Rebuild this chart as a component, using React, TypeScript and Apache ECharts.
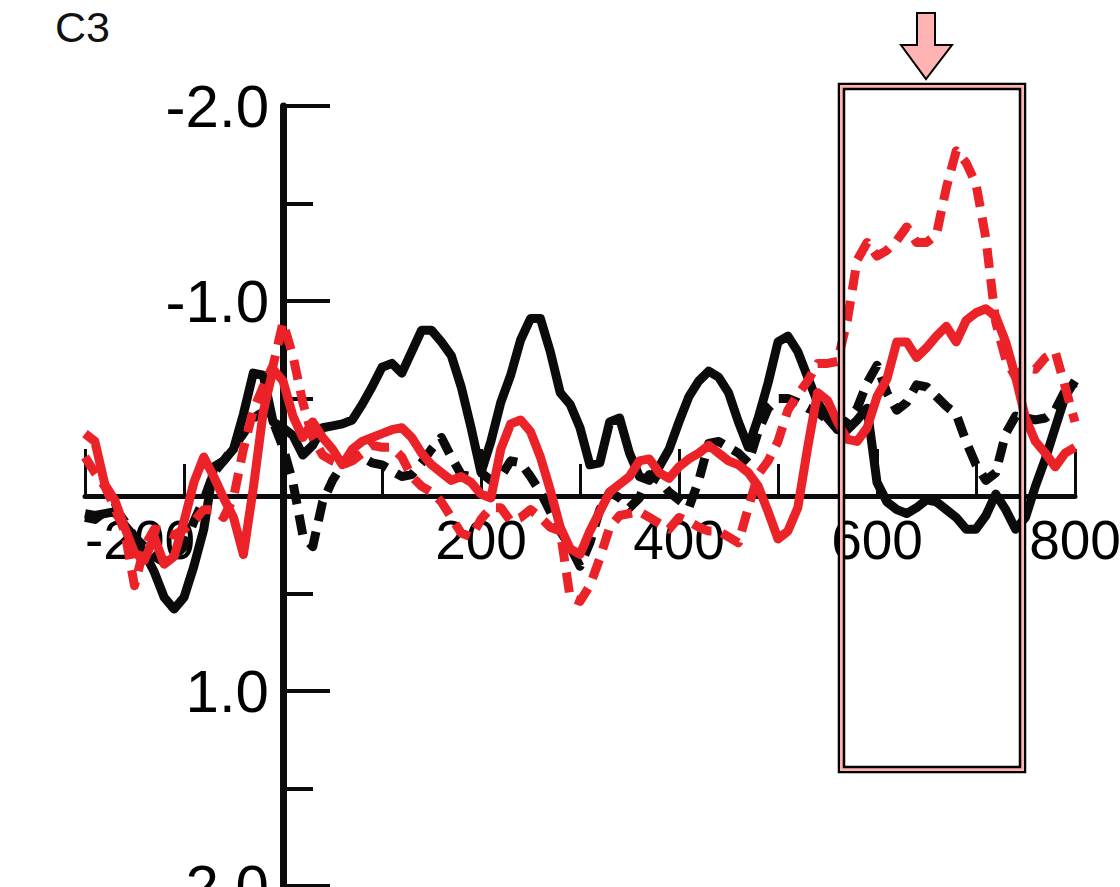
import React, { useEffect, useRef } from "react";
import * as echarts from "echarts";

// Sampling grid of the waveforms (ms)
const SAMPLE_START = -200;
const SAMPLE_STEP = 10;

// Channel C3 grand averages (µV), one value per 10 ms from -200 to 800 ms
const blackSolid = [
  0.09, 0.10, 0.09, 0.08, 0.15, 0.21, 0.29, 0.39, 0.52, 0.58,
  0.52, 0.36, 0.17, -0.15, -0.18, -0.24, -0.42, -0.63, -0.62, -0.38,
  -0.35, -0.31, -0.21, -0.26, -0.35, -0.36, -0.37, -0.39, -0.47, -0.56,
  -0.66, -0.68, -0.63, -0.74, -0.85, -0.85, -0.79, -0.72, -0.56, -0.35,
  -0.12, -0.28, -0.48, -0.62, -0.80, -0.91, -0.91, -0.74, -0.53, -0.47,
  -0.35, -0.16, -0.17, -0.38, -0.40, -0.22, -0.10, -0.08, -0.15, -0.24,
  -0.38, -0.51, -0.59, -0.64, -0.61, -0.53, -0.38, -0.25, -0.40, -0.58,
  -0.79, -0.82, -0.74, -0.61, -0.48, -0.40, -0.34, -0.34, -0.39, -0.45,
  -0.07, 0.03, 0.07, 0.09, 0.06, 0.02, 0.03, 0.07, 0.11, 0.17,
  0.17, 0.10, -0.01, 0.07, 0.17, 0.11, -0.05, -0.19, -0.35, -0.51,
  -0.59,
];

const blackDashed = [
  0.11, 0.12, 0.08, 0.06, 0.13, 0.21, 0.26, 0.31, 0.34, 0.31,
  0.26, 0.13, 0.02, -0.12, -0.18, -0.25, -0.32, -0.40, -0.43, -0.38,
  -0.25, -0.07, 0.20, 0.26, 0.03, -0.08, -0.16, -0.21, -0.20, -0.17,
  -0.16, -0.13, -0.10, -0.11, -0.17, -0.24, -0.30, -0.20, -0.11, -0.10,
  -0.12, -0.08, -0.10, -0.18, -0.17, -0.10, -0.02, 0.08, 0.18, 0.26,
  0.36, 0.24, 0.07, -0.02, 0.01, 0.06, 0.01, -0.11, -0.08, -0.02,
  0.02, 0.06, -0.08, -0.27, -0.28, -0.25, -0.22, -0.17, -0.33, -0.45,
  -0.50, -0.50, -0.48, -0.45, -0.43, -0.39, -0.35, -0.38, -0.45, -0.58,
  -0.67, -0.53, -0.44, -0.48, -0.57, -0.56, -0.51, -0.46, -0.42, -0.28,
  -0.16, -0.08, -0.12, -0.32, -0.41, -0.40, -0.39, -0.40, -0.44, -0.54,
  -0.58,
];

const redSolid = [
  -0.32, -0.28, -0.06, 0.02, 0.16, 0.29, 0.33, 0.21, 0.35, 0.31,
  0.13, -0.07, -0.20, -0.10, 0.01, 0.11, 0.30, -0.04, -0.43, -0.65,
  -0.59, -0.41, -0.30, -0.38, -0.30, -0.24, -0.16, -0.24, -0.28, -0.30,
  -0.32, -0.34, -0.35, -0.30, -0.22, -0.16, -0.12, -0.08, -0.10, -0.07,
  -0.01, 0.01, -0.24, -0.37, -0.39, -0.33, -0.20, -0.03, 0.16, 0.27,
  0.30, 0.18, 0.08, -0.02, -0.06, -0.10, -0.18, -0.19, -0.12, -0.09,
  -0.15, -0.19, -0.22, -0.26, -0.22, -0.18, -0.16, -0.12, -0.05, 0.08,
  0.22, 0.18, 0.06, -0.25, -0.53, -0.49, -0.38, -0.29, -0.28, -0.35,
  -0.51, -0.60, -0.79, -0.79, -0.71, -0.76, -0.82, -0.87, -0.79, -0.90,
  -0.94, -0.96, -0.92, -0.79, -0.61, -0.40, -0.28, -0.22, -0.15, -0.22,
  -0.25,
];

const redDashed = [
  -0.20, -0.12, -0.05, 0.06, 0.18, 0.46, 0.26, 0.17, 0.18, 0.20,
  0.17, 0.13, 0.07, 0.07, 0.11, 0.01, -0.24, -0.44, -0.56, -0.67,
  -0.89, -0.72, -0.48, -0.30, -0.21, -0.18, -0.16, -0.18, -0.22, -0.26,
  -0.25, -0.25, -0.20, -0.10, -0.05, -0.02, 0.03, 0.11, 0.19, 0.21,
  0.12, 0.06, 0.06, 0.13, 0.11, 0.07, 0.11, 0.16, 0.18, 0.52,
  0.54, 0.46, 0.32, 0.16, 0.10, 0.09, 0.08, 0.11, 0.14, 0.17,
  0.11, 0.13, 0.16, 0.18, 0.18, 0.21, 0.24, 0.06, -0.11, -0.18,
  -0.28, -0.44, -0.52, -0.59, -0.68, -0.68, -0.69, -0.90, -1.21, -1.30,
  -1.23, -1.26, -1.31, -1.38, -1.30, -1.30, -1.34, -1.58, -1.77, -1.71,
  -1.60, -1.32, -0.89, -0.70, -0.61, -0.66, -0.65, -0.71, -0.74, -0.56,
  -0.38,
];

const CHANNEL = "C3";
const BLACK = "#0b0b0b";
const RED = "#ec2229";
const PINK = "#ffb3b3";
const FONT = "'Liberation Sans', Arial, Helvetica, sans-serif";

// Plot frame: -200..800 ms across, -2..2 µV down (negative up)
const GRID = { left: 85, top: 106, width: 990, height: 780 };
const X_MIN = -200;
const X_MAX = 800;
const Y_MIN = -2;
const Y_MAX = 2;
// Axes cross at the origin: shift them from the frame edges to the zero lines
const Y_AXIS_SHIFT = -((0 - X_MIN) / (X_MAX - X_MIN)) * GRID.width;
const X_AXIS_SHIFT = -((Y_MAX - 0) / (Y_MAX - Y_MIN)) * GRID.height;

const toPairs = (values: number[]) =>
  values.map((v, i) => [SAMPLE_START + i * SAMPLE_STEP, v]);

const waveform = (name: string, values: number[], color: string, dashed: boolean) => ({
  name,
  type: "line",
  data: toPairs(values),
  showSymbol: false,
  symbol: "none",
  smooth: false,
  lineStyle: {
    color,
    width: 9,
    type: dashed ? [20, 11] : "solid",
    cap: "butt",
    join: "round",
  },
  silent: true,
});

export default function App() {
  const ref = useRef<HTMLDivElement>(null);

  useEffect(() => {
    if (!ref.current) return;
    const chart = echarts.init(ref.current, undefined, { renderer: "svg" });

    const option = {
      animation: false,
      backgroundColor: "#ffffff",
      grid: { ...GRID, containLabel: false, outerBoundsMode: "none" },
      xAxis: {
        type: "value",
        min: X_MIN,
        max: X_MAX,
        interval: 200,
        position: "bottom",
        offset: X_AXIS_SHIFT,
        axisLine: { onZero: false, lineStyle: { color: BLACK, width: 5 } },
        axisTick: { show: true, inside: true, length: 47, lineStyle: { color: BLACK, width: 3 } },
        minorTick: { show: true, splitNumber: 2, length: 32, lineStyle: { color: BLACK, width: 3 } },
        axisLabel: {
          color: "#000",
          fontSize: 55,
          fontFamily: FONT,
          margin: 16,
          alignMinLabel: "left",
          formatter: (v: number) => (v === 0 ? "" : String(v)),
        },
        splitLine: { show: false },
      },
      yAxis: {
        type: "value",
        inverse: true,
        min: Y_MIN,
        max: Y_MAX,
        interval: 1,
        position: "left",
        offset: Y_AXIS_SHIFT,
        axisLine: { onZero: false, lineStyle: { color: BLACK, width: 7 } },
        axisTick: { show: true, inside: true, length: 47, lineStyle: { color: BLACK, width: 4 } },
        minorTick: { show: true, splitNumber: 2, length: 30, lineStyle: { color: BLACK, width: 4 } },
        axisLabel: {
          color: "#000",
          fontSize: 60,
          fontFamily: FONT,
          margin: 14,
          formatter: (v: number) => (v === 0 ? "" : v.toFixed(1)),
        },
        splitLine: { show: false },
      },
      series: [
        waveform("black dashed", blackDashed, BLACK, true),
        waveform("black solid", blackSolid, BLACK, false),
        waveform("red dashed", redDashed, RED, true),
        waveform("red solid", redSolid, RED, false),
      ],
      graphic: [
        {
          type: "text",
          left: 55,
          top: 5,
          style: { text: CHANNEL, fontSize: 43, fontFamily: FONT, fill: "#111" },
        },
        // highlighted time window: black / pink / black frame
        {
          type: "rect",
          shape: { x: 839, y: 84, width: 186, height: 688 },
          style: { fill: "none", stroke: "#000", lineWidth: 2.5 },
          z: 100,
        },
        {
          type: "rect",
          shape: { x: 841.5, y: 86.5, width: 181, height: 683 },
          style: { fill: "none", stroke: PINK, lineWidth: 3 },
          z: 100,
        },
        {
          type: "rect",
          shape: { x: 844, y: 89, width: 176, height: 678 },
          style: { fill: "none", stroke: "#000", lineWidth: 2.5 },
          z: 100,
        },
        {
          type: "polygon",
          shape: {
            points: [
              [917, 13],
              [935, 13],
              [935, 45],
              [952, 45],
              [926, 79],
              [901, 45],
              [917, 45],
            ],
          },
          style: { fill: PINK, stroke: "#000", lineWidth: 2 },
          z: 100,
        },
      ],
    };

    chart.setOption(option as any);
    return () => chart.dispose();
  }, []);

  return (
    <div
      ref={ref}
      style={{ position: "fixed", left: 0, top: 0, width: 1120, height: 887, background: "#fff" }}
    />
  );
}
